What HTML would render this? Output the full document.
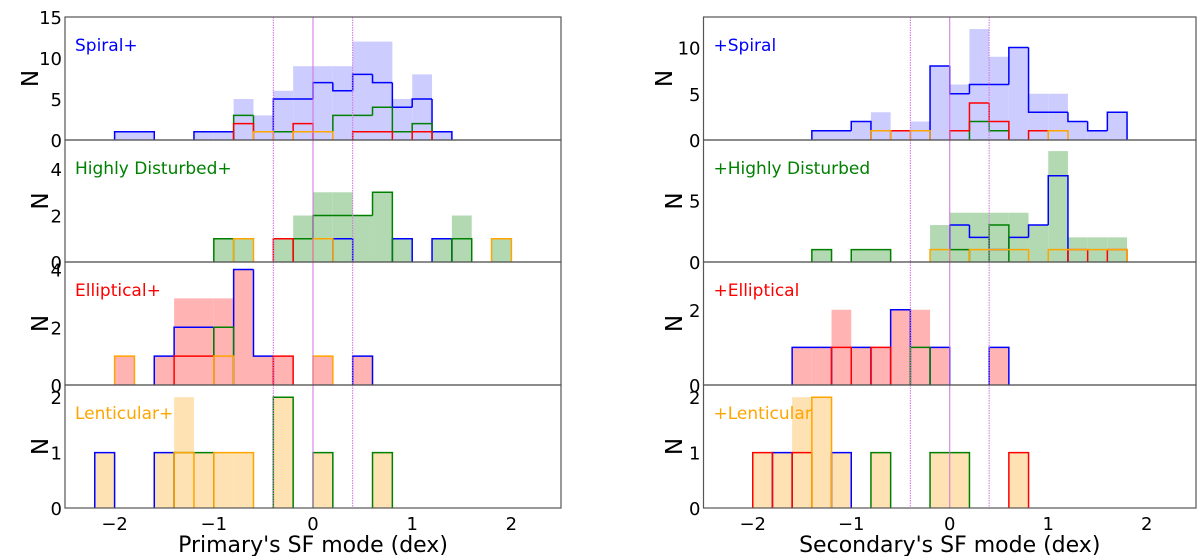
<!DOCTYPE html>
<html><head><meta charset="utf-8"><style>
html,body{margin:0;padding:0;background:#fff;}
svg{display:block;font-family:"DejaVu Sans","Liberation Sans",sans-serif;}
</style></head><body>
<svg id="chart" width="1200" height="556" viewBox="0 0 1200 556" xmlns="http://www.w3.org/2000/svg"></svg>
<script>
// bin left edges (dex) for all panels; bin width 0.2
const binEdges = [-2.2,-2.0,-1.8,-1.6,-1.4,-1.2,-1.0,-0.8,-0.6,-0.4,-0.2,0.0,0.2,0.4,0.6,0.8,1.0,1.2,1.4,1.6,1.8,2.0];
const xTicks = [-2,-1,0,1,2];
const xTickLabels = ["\u22122","\u22121","0","1","2"];
const panelLabelsL = ["Spiral+","Highly Disturbed+","Elliptical+","Lenticular+"];
const panelLabelsR = ["+Spiral","+Highly Disturbed","+Elliptical","+Lenticular"];
const yMaxL = [15,5.25,4.26,2.22];
const yMaxR = [13.3,9.9,3.27,2.22];
const yTicksL = [[0,5,10,15],[0,2,4],[0,2,4],[0,1,2]];
const yTicksR = [[0,5,10],[0,5],[0,2],[0,1,2]];
// Left column (primary). Each: total, blue, green, red, orange
const L1_total = [0,1,1,0,0,1,1,5,3,6,9,9,9,12,12,5,8,1,0,0,0,0];
const L1_blue  = [0,1,1,0,0,1,1,0,0,5,5,7,6,8,7,4,5,1,0,0,0,0];
const L1_green = [0,0,0,0,0,0,0,3,1,1,1,1,3,3,4,1,2,0,0,0,0,0];
const L1_red   = [0,0,0,0,0,0,0,2,0,0,2,0,0,1,1,0,1,0,0,0,0,0];
const L1_orange= [0,0,0,0,0,0,0,0,1,0,1,1,0,0,0,0,0,0,0,0,0,0];
const L2_total = [0,0,0,0,0,0,1,1,0,1,2,3,3,2,3,1,0,1,2,0,1,0];
const L2_blue  = [0,0,0,0,0,0,0,0,0,0,0,0,1,0,0,1,0,1,0,0,0,0];
const L2_green = [0,0,0,0,0,0,1,0,0,0,1,2,2,2,3,0,0,0,1,0,0,0];
const L2_red   = [0,0,0,0,0,0,0,0,0,1,0,0,0,0,0,0,0,0,0,0,0,0];
const L2_orange= [0,0,0,0,0,0,0,1,0,0,0,1,0,0,0,0,0,0,0,0,1,0];
const L3_total = [0,1,0,1,3,3,3,4,1,1,0,1,0,1,0,0,0,0,0,0,0,0];
const L3_blue  = [0,0,0,1,2,2,0,4,1,0,0,0,0,1,0,0,0,0,0,0,0,0];
const L3_green = [0,0,0,0,0,0,2,0,0,0,0,0,0,0,0,0,0,0,0,0,0,0];
const L3_red   = [0,0,0,0,1,1,0,0,0,1,0,0,0,0,0,0,0,0,0,0,0,0];
const L3_orange= [0,1,0,0,0,0,1,0,0,0,0,1,0,0,0,0,0,0,0,0,0,0];
const L4_total = [1,0,0,1,2,1,1,1,0,2,0,1,0,0,1,0,0,0,0,0,0,0];
const L4_blue  = [1,0,0,1,0,0,0,0,0,0,0,0,0,0,0,0,0,0,0,0,0,0];
const L4_green = [0,0,0,0,1,1,0,0,0,2,0,1,0,0,1,0,0,0,0,0,0,0];
const L4_red   = [0,0,0,0,0,0,0,0,0,0,0,0,0,0,0,0,0,0,0,0,0,0];
const L4_orange= [0,0,0,0,1,0,1,1,0,0,0,0,0,0,0,0,0,0,0,0,0,0];
// Right column (secondary)
const R1_total = [0,0,0,0,1,1,2,3,1,2,8,6,12,9,10,5,5,2,1,3,0,0];
const R1_blue  = [0,0,0,0,1,1,2,0,0,0,8,5,6,6,10,3,3,2,1,3,0,0];
const R1_green = [0,0,0,0,0,0,0,0,0,0,0,0,2,1,0,0,0,0,0,0,0,0];
const R1_red   = [0,0,0,0,0,0,0,0,1,0,0,1,4,2,0,1,0,0,0,0,0,0];
const R1_orange= [0,0,0,0,0,0,0,1,0,1,0,0,0,0,0,0,1,0,0,0,0,0];
const R2_total = [0,0,0,0,1,0,1,1,0,0,3,4,4,4,4,3,9,2,2,2,0,0];
const R2_blue  = [0,0,0,0,0,0,0,0,0,0,0,3,2,1,2,3,7,0,0,0,0,0];
const R2_green = [0,0,0,0,1,0,1,1,0,0,0,1,0,3,0,0,0,0,0,0,0,0];
const R2_red   = [0,0,0,0,0,0,0,0,0,0,0,0,0,0,0,0,0,1,0,1,0,0];
const R2_orange= [0,0,0,0,0,0,0,0,0,0,1,0,1,1,1,0,1,1,1,1,0,0];
const R3_total = [0,0,0,1,1,2,1,1,2,2,1,0,0,1,0,0,0,0,0,0,0,0];
const R3_blue  = [0,0,0,1,1,0,1,0,2,0,1,0,0,1,0,0,0,0,0,0,0,0];
const R3_green = [0,0,0,0,0,0,0,0,0,1,0,0,0,0,0,0,0,0,0,0,0,0];
const R3_red   = [0,0,0,0,0,1,0,1,0,0,0,0,0,0,0,0,0,0,0,0,0,0];
const R3_orange= [0,0,0,0,0,0,0,0,0,0,0,0,0,0,0,0,0,0,0,0,0,0];
const R4_total = [0,1,1,2,2,1,0,1,0,0,1,1,0,0,1,0,0,0,0,0,0,0];
const R4_blue  = [0,0,1,0,0,1,0,0,0,0,0,0,0,0,0,0,0,0,0,0,0,0];
const R4_green = [0,0,0,0,0,0,0,1,0,0,1,1,0,0,0,0,0,0,0,0,0,0];
const R4_red   = [0,1,0,1,0,0,0,0,0,0,0,0,0,0,1,0,0,0,0,0,0,0];
const R4_orange= [0,0,0,0,2,0,0,0,0,0,0,0,0,0,0,0,0,0,0,0,0,0];
const refLines = [-0.4,0,0.4];

const NS="http://www.w3.org/2000/svg";
const svg=document.getElementById('chart');
function mk(tag,attrs,parent){const e=document.createElementNS(NS,tag);for(const k in attrs)e.setAttribute(k,attrs[k]);(parent||svg).appendChild(e);return e;}
const panelTops=[17,140,262,385], panelBots=[140,262,385,508];
const cols=[
 {x0:65,x1:561,labels:panelLabelsL,ymax:yMaxL,yt:yTicksL,nx:38,name:'primary',xlabel:"Primary's SF mode (dex)",
  data:[[L1_total,L1_blue,L1_green,L1_red,L1_orange],[L2_total,L2_blue,L2_green,L2_red,L2_orange],[L3_total,L3_blue,L3_green,L3_red,L3_orange],[L4_total,L4_blue,L4_green,L4_red,L4_orange]]},
 {x0:703.5,x1:1196,labels:panelLabelsR,ymax:yMaxR,yt:yTicksR,nx:672,name:'secondary',xlabel:"Secondary's SF mode (dex)",
  data:[[R1_total,R1_blue,R1_green,R1_red,R1_orange],[R2_total,R2_blue,R2_green,R2_red,R2_orange],[R3_total,R3_blue,R3_green,R3_red,R3_orange],[R4_total,R4_blue,R4_green,R4_red,R4_orange]]}
];
const fills=['#ccccff','#b3d9b3','#ffb3b3','#ffe2b3'];
const labelColors=['#0000ff','#008000','#ff0000','#ffa500'];
const stepColors=['#0000ff','#008000','#ff0000','#ffa500'];
const stepNames=['spiral','disturbed','elliptical','lenticular'];
cols.forEach(c=>{
 const xs=v=>c.x0+(v+2.5)/5*(c.x1-c.x0);
 const g=mk('g',{});
 
 
 for(let p=0;p<4;p++){
  const top=panelTops[p],bot=panelBots[p];
  const ys=v=>bot-v/c.ymax[p]*(bot-top);
  const pg=mk('g',{},g);
  
  
  const d=c.data[p];
  d[0].forEach((v,i)=>{ if(v>0){
   const r=mk('rect',{x:xs(binEdges[i]),y:ys(v),width:xs(binEdges[i]+0.2)-xs(binEdges[i]),height:bot-ys(v),fill:fills[p]},pg);
   
   
  }});
  for(let s=1;s<5;s++){
   let path='';
   const arr=d[s];
   for(let i=0;i<arr.length;i++){
    if(arr[i]<=0) continue;
    const xa=xs(binEdges[i]),xb=xs(binEdges[i]+0.2);
    const prev=i>0?arr[i-1]:0,next=i<arr.length-1?arr[i+1]:0;
    path+=`M${xa},${ys(Math.min(prev,arr[i])>0?prev:0)}L${xa},${ys(arr[i])}L${xb},${ys(arr[i])}`;
    if(next<=0) path+=`L${xb},${bot}`;
   }
   if(path){const pe=mk('path',{d:path,fill:'none',stroke:stepColors[s-1],'stroke-width':1.5},pg);
    
    }
  }
  refLines.forEach(v=>{
   const l=mk('line',{x1:xs(v),x2:xs(v),y1:top,y2:bot,stroke:'#d070e0','stroke-width':1,'stroke-dasharray':v===0?'':'1.5,1'},pg);
   
   
  });
  const fr=mk('rect',{x:c.x0,y:top,width:c.x1-c.x0,height:bot-top,fill:'none',stroke:'#555','stroke-width':1.2},pg);
  
  
  c.yt[p].forEach(t=>{
   const tx=mk('text',{x:c.x0-3,y:ys(t)+7,'text-anchor':'end','font-size':18,fill:'#000'},pg);
   tx.textContent=t;
   
   
  });
  const ny=(top+bot)/2;
  const nx=c.nx+(p>0?10:0);
  const nl=mk('text',{x:nx,y:ny,'text-anchor':'middle','font-size':23,fill:'#000',transform:`rotate(-90 ${nx} ${ny})`},pg);
  nl.textContent='N';
  
  
  const lb=mk('text',{x:c.x0+10,y:top+34,'font-size':17,fill:labelColors[p]},pg);
  lb.textContent=c.labels[p];
  
  
 }
 xTicks.forEach((t,i)=>{
  const tx=mk('text',{x:xs(t),y:530,'text-anchor':'middle','font-size':18,fill:'#000'},g);
  tx.textContent=xTickLabels[i];
  
  
 });
 const xl=mk('text',{x:xs(0),y:552,'text-anchor':'middle','font-size':22,fill:'#000'},g);
 xl.textContent=c.xlabel;
 
 
});
</script>
</body></html>
